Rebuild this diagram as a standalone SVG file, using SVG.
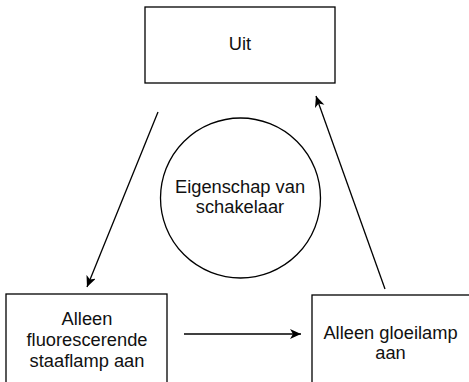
<svg xmlns="http://www.w3.org/2000/svg" width="469" height="382" viewBox="0 0 469 382">
<style>
.box{fill:#fff;stroke:#000;stroke-width:1.3}
.t{font-family:"Liberation Sans",Arial,sans-serif;font-size:18.3px;fill:#111;text-anchor:middle}
.c{stroke:#000;stroke-width:1.3;fill:none;marker-end:url(#ah)}
</style>
<defs>
<marker id="ah" markerWidth="12" markerHeight="12" refX="11" refY="5" orient="auto" markerUnits="userSpaceOnUse">
<path d="M0,0 L11,5 L0,10 L3,5 Z" fill="#000"/>
</marker>
</defs>
<rect width="469" height="382" fill="#fff"/>
<g id="uit">
<rect class="box" x="145" y="7" width="190" height="76"/>
<text class="t" x="240" y="50">Uit</text>
</g>
<g id="eigenschap">
<circle cx="240.5" cy="198" r="80" fill="#fff" stroke="#000" stroke-width="1.3"/>
<text class="t" x="240" y="193">Eigenschap van</text>
<text class="t" x="240" y="213">schakelaar</text>
</g>
<g id="fluor">
<rect class="box" x="6" y="294" width="161" height="95"/>
<text class="t" x="87" y="325">Alleen</text>
<text class="t" x="87" y="346">fluorescerende</text>
<text class="t" x="87" y="367">staaflamp aan</text>
</g>
<g id="gloei">
<rect class="box" x="312" y="295" width="162" height="95"/>
<text class="t" x="390.5" y="339">Alleen gloeilamp</text>
<text class="t" x="390.5" y="359">aan</text>
</g>
<g id="connectors">
<line class="c" x1="158" y1="112" x2="87" y2="287"/>
<line class="c" x1="184" y1="334" x2="301" y2="334"/>
<line class="c" x1="385" y1="289" x2="316" y2="96"/>
</g>
</svg>
